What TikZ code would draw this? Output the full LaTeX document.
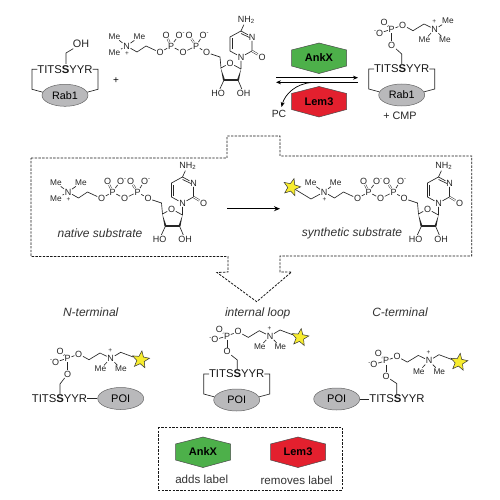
\documentclass[tikz,border=0pt]{standalone}
\usepackage{fontspec}
\setmainfont{Liberation Sans}
\usetikzlibrary{arrows.meta,shapes.geometric,calc}
\definecolor{ankgreen}{HTML}{4DB04A}
\definecolor{lemred}{HTML}{E3202E}
\definecolor{greyA}{HTML}{B9B9BB}
\definecolor{starY}{HTML}{F7EC2E}
\newcommand{\fs}[1]{\fontsize{#1}{#1}\selectfont}
\newcommand{\Ominus}{O\rlap{\raisebox{3.2pt}{\fs{6}-}}}
\newcommand{\minusO}{\llap{\raisebox{3.2pt}{\fs{6}-}}O}
\tikzset{
  bond/.style={line width=.65pt,black!85},
  dbond/.style={line width=.45pt,double,double distance=1.1pt,black!85},
  atom/.style={font=\fs{9},inner sep=.6pt,text=black!85},
  ligand/.style={font=\fs{8.3},inner sep=.6pt,text=black!85},
  plusmark/.style={font=\fs{6.5},inner sep=0pt,text=black!85},
  pepd/.style={font=\fs{11.3},inner sep=0pt,text=black!90},
  caption/.style={font=\fs{12}\itshape,inner sep=0pt,text=black!80},
  legendtext/.style={font=\fs{11.6},inner sep=0pt,text=black!80},
  boxline/.style={line width=.8pt,dash pattern=on 2.4pt off 1.3pt,black!90},
  labelstar/.style={star,star points=5,star point ratio=2.3,minimum size=18pt,inner sep=0pt,fill=starY,draw=black!80,line width=.5pt},
  prot/.style={ellipse,minimum width=46pt,minimum height=22pt,inner sep=0pt,fill=greyA,draw=black!60,line width=.5pt,font=\fs{10.8}},
  pics/hexa/.style n args={3}{code={
    \draw[fill=#1,draw=black!70,line width=.5pt] (-27.5,-8) -- (0,-15) -- (27.5,-8) -- (27.5,8) -- (0,15.5) -- (-27.5,8) -- cycle;
    \node[font=\bfseries\fs{11},inner sep=0pt] (#3) at (0,0) {#2};
  }},
  pics/looped/.style n args={2}{code={
    \node[pepd] (pep) at (0,0) {TITS\textbf{S}YYR};
    \node[prot] (prot) at (0,26) {#1};
    \coordinate (la) at (-27.7,0); \coordinate (lb) at (-33,0); \coordinate (lc) at (-33,20);
    \coordinate (ra) at (27.7,0); \coordinate (rb) at (33,0); \coordinate (rc) at (33,20);
    \draw[bond] (la) -- (lb) -- (lc) -- (prot.172);
    \draw[bond] (ra) -- (rb) -- (rc) -- (prot.8);
  }},
  % CMP tail, origin at the quaternary N
  pics/cmptail/.style={code={
    \node[atom] (N) at (0,0) {N};
    \node[plusmark] (plus) at (0.5,7.5) {+};
    \coordinate (c1) at (10.5,6); \coordinate (c2) at (19.5,0);
    \node[atom] (O1) at (33.5,6.5) {O};
    \node[atom] (P1) at (44.5,0) {P};
    \node[atom] (O1a) at (39.5,-11) {O};
    \node[atom] (O1b) at (52.5,-11) {\Ominus};
    \node[atom] (O2) at (56.5,6.5) {O};
    \node[atom] (P2) at (69.5,0) {P};
    \node[atom] (O2a) at (62.5,-11) {O};
    \node[atom] (O2b) at (76.5,-11) {\Ominus};
    \node[atom] (O3) at (80,6.5) {O};
    \coordinate (c5p) at (93.5,11); \coordinate (c4p) at (94.5,22);
    \node[atom] (Or) at (103.5,17) {O};
    \coordinate (c1p) at (114.5,23); \coordinate (c2p) at (111.5,34); \coordinate (c3p) at (97.5,34);
    \node[atom] (HO) at (91.5,47) {HO};
    \node[atom] (OH) at (117,47) {OH};
    \node[atom] (N1) at (114.5,11) {N};
    \coordinate (c2b) at (125.5,5);
    \node[atom] (Oc) at (135.5,11) {O};
    \node[atom] (N3) at (125.5,-9) {N};
    \coordinate (c4b) at (114.5,-15);
    \node[atom] (NH) at (119.5,-26) {NH\raisebox{-1.5pt}{\fs{6}2}};
    \coordinate (c5b) at (103.5,-9); \coordinate (c6b) at (103.5,5);
    \coordinate (c6i) at (105.5,3.5); \coordinate (c5i) at (105.5,-7.5);
    \coordinate (n3i) at (123,-8.5); \coordinate (c4i) at (114.5,-12.5);
    \draw[bond] (N) -- (c1) -- (c2) -- (O1) -- (P1) -- (O1b);
    \draw[bond] (P1) -- (O2) -- (P2) -- (O2b);
    \draw[bond] (P2) -- (O3) -- (c5p) -- (c4p) -- (Or) -- (c1p);
    \draw[dbond] (P1) -- (O1a);
    \draw[dbond] (P2) -- (O2a);
    \fill[black!85] ($(c4p)+(-.2,0)$) -- ($(c3p)+(-1,0)$) -- ($(c3p)+(1,0)$) -- cycle;
    \fill[black!85] ($(c1p)+(0,0)$) -- ($(c2p)+(-1,0)$) -- ($(c2p)+(1,0)$) -- cycle;
    \draw[line width=1.9pt,black!85,line cap=round] (c3p) -- (c2p);
    \draw[bond] (c3p) -- (HO);
    \draw[bond] (c2p) -- (OH);
    \draw[bond] (c1p) -- (N1) -- (c2b) -- (N3) -- (c4b) -- (c5b) -- (c6b) -- (N1);
    \draw[dbond] (c2b) -- (Oc);
    \draw[bond] (c4b) -- (NH);
    \draw[bond] (c6i) -- (c5i);
    \draw[bond] (n3i) -- (c4i);
  }},
  % phosphocholine, origin at the P
  pics/phoscho/.style={code={
    \node[atom] (P) at (0,0) {P};
    \node[atom] (Od) at (-7.7,-7) {O};
    \node[atom] (Om) at (-12.2,3.7) {\minusO};
    \node[atom] (Oe) at (11,-4.3) {O};
    \node[atom] (Ol) at (0,15.7) {O};
    \coordinate (ca) at (21.3,1.4); \coordinate (cb) at (32.3,-5.3);
    \node[atom] (N) at (43,0) {N};
    \node[plusmark] (plus) at (42.5,-7.8) {+};
    \node[ligand] (MeA) at (32.8,10.7) {Me};
    \node[ligand] (MeB) at (53.3,10.7) {Me};
    \draw[dbond] (P) -- (Od);
    \draw[bond] (P) -- (Om);
    \draw[bond] (P) -- (Ol);
    \draw[bond] (P) -- (Oe) -- (ca) -- (cb) -- (N) -- (MeA);
    \draw[bond] (N) -- (MeB);
  }},
  pics/phostar/.style={code={
    \node[labelstar,rotate=-8] (star) at (73,1.5) {};
    \coordinate (cs) at (53,-6);
    \draw[bond] (N) -- (cs) -- (star);
  }}
}
\begin{document}
\begin{tikzpicture}[x=1pt,y=-1pt]
\useasboundingbox (0,0) rectangle (500,500);
\fill[white] (0,0) rectangle (500,500);

% ===== top row =====
\pic (ra) at (65,69.3) {looped={Rab1}{}};
\node[atom,font=\fs{10.8}] (oh) at (81,44) {OH};
\coordinate (rach) at (66,53);
\coordinate (ras) at (66,64);
\draw[bond] (ras) -- (rach) -- (oh);
\node[font=\fs{10},inner sep=0pt] (plusTop) at (116,81) {+};

\pic (sa) at (126.5,46) {cmptail};
\node[ligand] (saA) at (114.5,36.7) {Me};
\node[ligand] (saB) at (139.5,36.7) {Me};
\node[ligand] (saC) at (114.5,52.7) {Me};
\draw[bond] (saN) -- (saA); \draw[bond] (saN) -- (saB); \draw[bond] (saN) -- (saC);

\pic at (319,58) {hexa={ankgreen}{AnkX}{ankTop}};
\pic at (319,101.5) {hexa={lemred}{Lem3}{lemTop}};
\coordinate (fa) at (276,77.7); \coordinate (fb) at (358,77.7);
\coordinate (ba) at (358,82.3); \coordinate (bb) at (276,82.3);
\draw[line width=.75pt,-{Stealth[length=5pt,width=4pt]}] (fa) -- (fb);
\draw[line width=.75pt,-{Stealth[length=5pt,width=4pt]}] (ba) -- (bb);
\node[font=\fs{10.4},inner sep=0pt,text=black!85] (pc) at (279,114) {PC};
\coordinate (cs) at (312,82.5);
\coordinate (ce) at (281.5,107);
\draw[line width=.7pt,-{Stealth[length=5pt,width=4pt]}] (cs) .. controls (296,83.5) and (285,94) .. (ce);

\pic (rb) at (401.7,69) {looped={Rab1}{}};
\pic (pa) at (391.7,29.3) {phoscho};
\node[ligand] (paC) at (448,21) {Me};
\draw[bond] (paN) -- (paC);
\coordinate (pach) at (401.7,54);
\coordinate (pas) at (401.7,64);
\draw[bond] (paOl) -- (pach) -- (pas);
\node[font=\fs{10.8},inner sep=0pt,text=black!85] (cmp) at (400,116) {+ CMP};

% ===== substrate box =====
\coordinate (b1) at (31,158); \coordinate (b2) at (227,158); \coordinate (b3) at (227,136);
\coordinate (b4) at (280,136); \coordinate (b5) at (280,156); \coordinate (b6) at (471.7,156);
\coordinate (b7) at (471.7,256); \coordinate (b8) at (280,256); \coordinate (b9) at (280,272);
\coordinate (b10) at (291.5,272); \coordinate (b11) at (256.7,301.7); \coordinate (b12) at (217,272.5);
\coordinate (b13) at (228,272); \coordinate (b14) at (228,256.5); \coordinate (b15) at (31,256.5);
\draw[boxline] (b1) -- (b2) -- (b3) -- (b4) -- (b5) -- (b6) -- (b7) -- (b8) -- (b9) -- (b10) -- (b11) -- (b12) -- (b13) -- (b14) -- (b15) -- cycle;

\pic (sb) at (68,192) {cmptail};
\node[ligand] (sbA) at (56,182.7) {Me};
\node[ligand] (sbB) at (81,182.7) {Me};
\node[ligand] (sbC) at (56,198.7) {Me};
\draw[bond] (sbN) -- (sbA); \draw[bond] (sbN) -- (sbB); \draw[bond] (sbN) -- (sbC);
\node[caption] (capA) at (100,233) {native substrate};

\coordinate (ma) at (227,208.7); \coordinate (mb) at (280,208.7);
\draw[line width=.9pt,-{Stealth[length=6pt,width=5pt]}] (ma) -- (mb);

\pic (sc) at (324,192) {cmptail};
\node[labelstar,rotate=-15] (scS) at (291.7,187.3) {};
\coordinate (scc) at (311,199);
\node[ligand] (scA) at (310.7,183) {Me};
\node[ligand] (scB) at (335.7,183) {Me};
\draw[bond] (scS) -- (scc) -- (scN); \draw[bond] (scN) -- (scA); \draw[bond] (scN) -- (scB);
\node[caption] (capB) at (352,233) {synthetic substrate};

% ===== bottom row =====
\node[caption] (capN) at (90.7,312.7) {N-terminal};
\node[caption] (capI) at (257.7,313) {internal loop};
\node[caption] (capC) at (400,312.7) {C-terminal};

% N-terminal
\pic (nt) at (67.7,358.3) {phoscho};
\pic (nt) at (67.7,358.3) {phostar};
\node[pepd] (ntP) at (59.5,398.5) {TITS\textbf{S}YYR};
\node[prot,font=\fs{11}] (ntE) at (120.7,398.5) {POI};
\draw[bond] (ntP) -- (ntE);
\coordinate (ntc) at (60,384); \coordinate (nts) at (60,394);
\draw[bond] (ntOl) -- (ntc) -- (nts);

% internal loop
\pic (il) at (236.7,374) {looped={POI}{}};
\pic (im) at (227,336) {phoscho};
\pic (im) at (227,336) {phostar};
\coordinate (imc) at (237.3,360); \coordinate (ims) at (237.3,369.5);
\draw[bond] (imOl) -- (imc) -- (ims);

% C-terminal
\pic (ct) at (386,360.7) {phoscho};
\pic (ct) at (386,360.7) {phostar};
\node[pepd] (ctP) at (397,399) {TITS\textbf{S}YYR};
\node[prot,font=\fs{11}] (ctE) at (336.7,399) {POI};
\draw[bond] (ctE) -- (ctP);
\coordinate (ctc) at (396.7,383.5); \coordinate (cts) at (396.7,394.5);
\draw[bond] (ctOl) -- (ctc) -- (cts);

% ===== legend =====
\coordinate (la) at (158,427); \coordinate (lb) at (342,490);
\draw[boxline] (la) rectangle (lb);
\pic at (203,452) {hexa={ankgreen}{AnkX}{ankKey}};
\pic at (298,452) {hexa={lemred}{Lem3}{lemKey}};
\node[legendtext] (keyA) at (201.7,479.3) {adds label};
\node[legendtext] (keyB) at (296.7,480) {removes label};
\end{tikzpicture}
\end{document}
